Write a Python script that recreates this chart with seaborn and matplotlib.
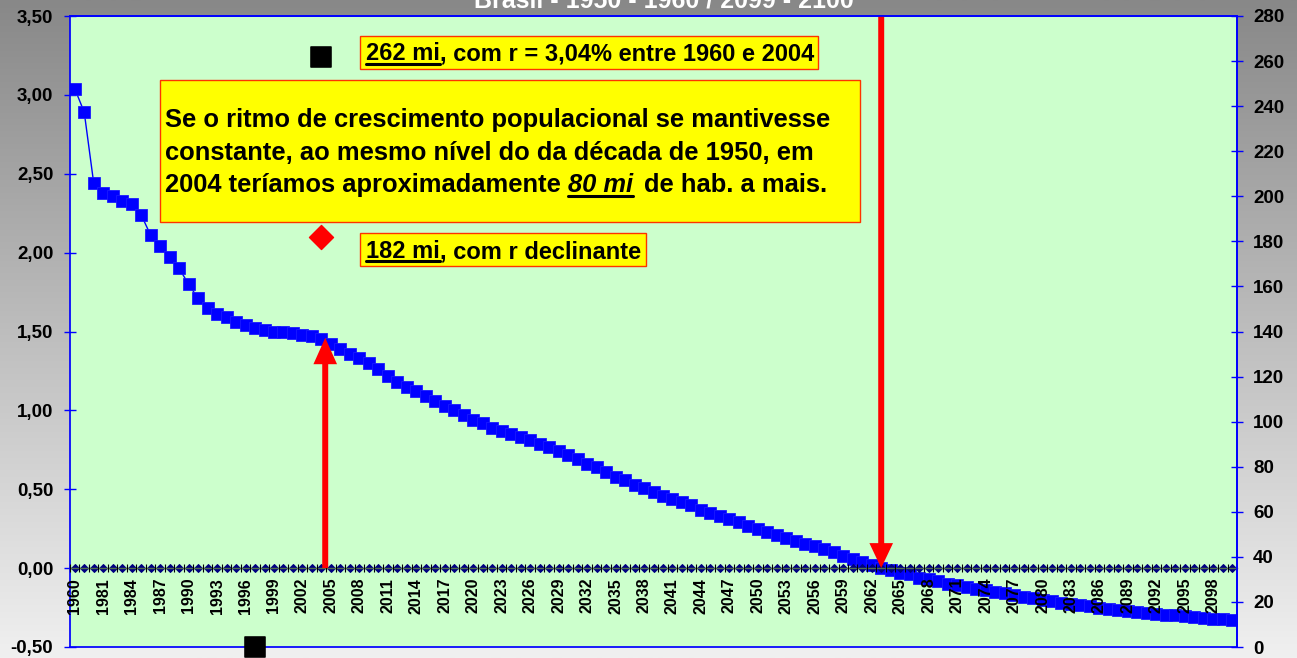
import numpy as np
import pandas as pd
import matplotlib
matplotlib.use("Agg")
import matplotlib.pyplot as plt
import seaborn as sns
from matplotlib.patches import Rectangle
from matplotlib.lines import Line2D
from matplotlib.colors import LinearSegmentedColormap
from matplotlib.ticker import FixedLocator, FuncFormatter

# categorias do eixo x
anos = ["1960", "1970"] + [str(a) for a in range(1980, 2101)]

# taxa de crescimento r (%) - eixo esquerdo
taxa_r = [
    3.04, 2.89, 2.44, 2.38, 2.36, 2.33, 2.31, 2.24, 2.11, 2.04,
    1.97, 1.90, 1.80, 1.71, 1.65, 1.61, 1.59, 1.56, 1.54, 1.52,
    1.51, 1.50, 1.50, 1.49, 1.48, 1.47, 1.45, 1.42, 1.39, 1.36,
    1.33, 1.30, 1.26, 1.22, 1.18, 1.15, 1.12, 1.09, 1.06, 1.03,
    1.00, 0.97, 0.94, 0.92, 0.89, 0.87, 0.85, 0.83, 0.81, 0.79,
    0.77, 0.74, 0.72, 0.69, 0.66, 0.64, 0.61, 0.58, 0.56, 0.53,
    0.51, 0.48, 0.46, 0.44, 0.42, 0.40, 0.37, 0.35, 0.33, 0.31,
    0.29, 0.27, 0.25, 0.23, 0.21, 0.19, 0.17, 0.15, 0.14, 0.12,
    0.10, 0.08, 0.06, 0.04, 0.02, 0.00, -0.01, -0.03, -0.04, -0.06,
    -0.07, -0.08, -0.10, -0.11, -0.12, -0.13, -0.14, -0.15, -0.16, -0.17,
    -0.18, -0.19, -0.20, -0.21, -0.22, -0.23, -0.235, -0.24, -0.25, -0.26,
    -0.265, -0.27, -0.28, -0.285, -0.29, -0.295, -0.30, -0.305, -0.31, -0.315,
    -0.32, -0.325, -0.33,
]
linha_zero = [0.0] * len(anos)

# populacao (mi) - eixo direito
pop_anos = ["2004", "1997"]
pop_const = [262, 0]
pop_real_ano = "2004"
pop_real = 182

# anos das setas
seta_sobe_ano = 26.4   # posicao de categoria (2004)
seta_desce_ano = 85.0  # posicao de categoria (2063)

titulo = "Brasil - 1950 - 1960 / 2099 - 2100"

W, H = 1297, 658

sns.set_theme(style="white")
plt.rcParams["font.family"] = ["Liberation Sans", "DejaVu Sans"]
plt.rcParams["font.weight"] = "bold"

df = pd.DataFrame({"pos": np.arange(len(anos)), "ano": anos,
                   "r": taxa_r, "zero": linha_zero})

fig = plt.figure(figsize=(W / 100, H / 100), dpi=100)

# fundo em degrade
bg = fig.add_axes([0, 0, 1, 1], zorder=-10)
cmap = LinearSegmentedColormap.from_list("fundo", ["#888888", "#bdbdbd", "#f0f0f0"])
bg.imshow(np.linspace(0, 1, 256).reshape(-1, 1), cmap=cmap, aspect="auto",
          extent=[0, 1, 0, 1])
bg.axis("off")

ax = fig.add_axes([70 / W, 1 - 647 / H, (1237 - 70) / W, (647 - 16) / H])
ax.set_facecolor("#CCFFCC")

sns.lineplot(data=df, x="pos", y="r", ax=ax, color="#0000FF", linewidth=1,
             marker="s", markersize=9.3, markeredgecolor="#1a1aff",
             markeredgewidth=0.6, zorder=2)
sns.lineplot(data=df, x="pos", y="zero", ax=ax, color="#000080", linewidth=0,
             marker="D", markersize=4.2, markeredgecolor="#000080", zorder=2.5)

ax.set_xlim(-0.5, len(anos) - 0.5)
ax.set_ylim(-0.5, 3.5)
ax.set_xlabel("")
ax.set_ylabel("")

ax.yaxis.set_major_locator(FixedLocator(np.arange(-0.5, 3.51, 0.5)))
ax.yaxis.set_major_formatter(FuncFormatter(lambda v, p: f"{v:.2f}".replace(".", ",")))
ax.tick_params(axis="y", colors="#0000FF", labelcolor="black", direction="inout",
               length=9, width=1, labelsize=13.5, pad=7.5, left=True)

ax.spines["bottom"].set_position(("data", 0))
ax.spines["bottom"].set_color("#4f6f4f")
ax.spines["bottom"].set_linewidth(1)
ax.spines["left"].set_color("#0000FF")
ax.spines["top"].set_color("#0000FF")
ax.spines["right"].set_color("#0000FF")
for s in ax.spines.values():
    s.set_visible(True)

# setas
ax.annotate("", xy=(seta_sobe_ano, 1.46), xytext=(seta_sobe_ano, 0.0),
            arrowprops=dict(width=4.3, headwidth=17, headlength=19, shrink=0,
                            color="#FF0000", lw=0), zorder=4)
ax.annotate("", xy=(seta_desce_ano, 0.0), xytext=(seta_desce_ano, 3.5),
            arrowprops=dict(width=4.3, headwidth=17, headlength=18, shrink=0,
                            color="#FF0000", lw=0), zorder=4)

# eixo direito
ax2 = ax.twinx()
pos_pop = [anos.index(a) for a in pop_anos]
sns.scatterplot(x=pos_pop, y=pop_const, ax=ax2, marker="s", s=207,
                color="black", edgecolor="black", clip_on=False, zorder=3)
sns.scatterplot(x=[anos.index(pop_real_ano)], y=[pop_real], ax=ax2, marker="D",
                s=150, color="#FF0000", edgecolor="#FF0000", zorder=3)
ax2.set_ylim(0, 280)
ax2.yaxis.set_major_locator(FixedLocator(np.arange(0, 281, 20)))
ax2.tick_params(axis="y", colors="#0000FF", labelcolor="black", direction="inout",
                length=9, width=1, labelsize=13.5, pad=7, right=True)
for k in ["top", "right", "bottom", "left"]:
    ax2.spines[k].set_visible(True)
    ax2.spines[k].set_color("#0000FF")
ax2.spines["left"].set_visible(False)

# eixo x (categorias), definido depois do twinx
lab_pos = list(range(0, len(anos), 3))
ax.set_xlim(-0.5, len(anos) - 0.5)
ax.xaxis.set_major_locator(FixedLocator(lab_pos))
ax.xaxis.set_major_formatter(FuncFormatter(lambda v, p: anos[int(round(v))]))
ax.xaxis.set_minor_locator(FixedLocator(np.arange(len(anos)) - 0.5))
ax.tick_params(axis="x", which="major", length=0, pad=7, labelcolor="black",
               labelrotation=90, labelsize=11.5, bottom=True, labelbottom=True)
ax.tick_params(axis="x", which="minor", length=6, width=0.8, color="black",
               direction="inout", bottom=True)
ax.xaxis.set_zorder(3)

for lab in ax.get_xticklabels() + ax.get_yticklabels() + ax2.get_yticklabels():
    lab.set_fontweight("bold")

# titulo (cortado no topo)
fig.text(664 / W, 1 - 7 / H, titulo, ha="center", va="baseline", color="white",
         fontsize=18, fontweight="bold")

# caixas amarelas
def caixa(x0, y0, x1, y1):
    fig.add_artist(Rectangle((x0 / W, 1 - y1 / H), (x1 - x0) / W, (y1 - y0) / H,
                             transform=fig.transFigure, facecolor="#FFFF00",
                             edgecolor="#FF3300", linewidth=1, zorder=5))

renderer = fig.canvas.get_renderer()

def linha_texto(x, base, partes, size=17):
    for txt, estilo, sub, gap in partes:
        x += gap
        t = fig.text(x / W, 1 - base / H, txt, ha="left", va="baseline",
                     fontsize=size, fontweight="bold", fontstyle=estilo,
                     color="black", zorder=6)
        bb = t.get_window_extent(renderer=renderer)
        if sub:
            yy = (H - base - 3.5) / H
            fig.add_artist(Line2D([bb.x0 / W, bb.x1 / W], [yy, yy],
                                  transform=fig.transFigure, color="black",
                                  linewidth=2.2, zorder=6))
        x = bb.x1

caixa(360, 36, 818, 69)
linha_texto(366, 60, [("262 mi", "normal", True, 0),
                      (", com r = 3,04% entre 1960 e 2004", "normal", False, 0)])

caixa(160, 80, 860, 222)
linha_texto(165, 127, [("Se o ritmo de crescimento populacional se mantivesse",
                        "normal", False, 0)], size=18.4)
linha_texto(165, 160, [("constante, ao mesmo nível do da década de 1950, em",
                        "normal", False, 0)], size=18.4)
linha_texto(165, 192, [("2004 teríamos aproximadamente", "normal", False, 0),
                       ("80 mi", "italic", True, 7),
                       ("de hab. a mais.", "normal", False, 11)], size=18.4)

caixa(360, 233, 646, 266)
linha_texto(366, 258, [("182 mi", "normal", True, 0),
                       (", com r declinante", "normal", False, 0)])

fig.savefig("out.png", dpi=100)
